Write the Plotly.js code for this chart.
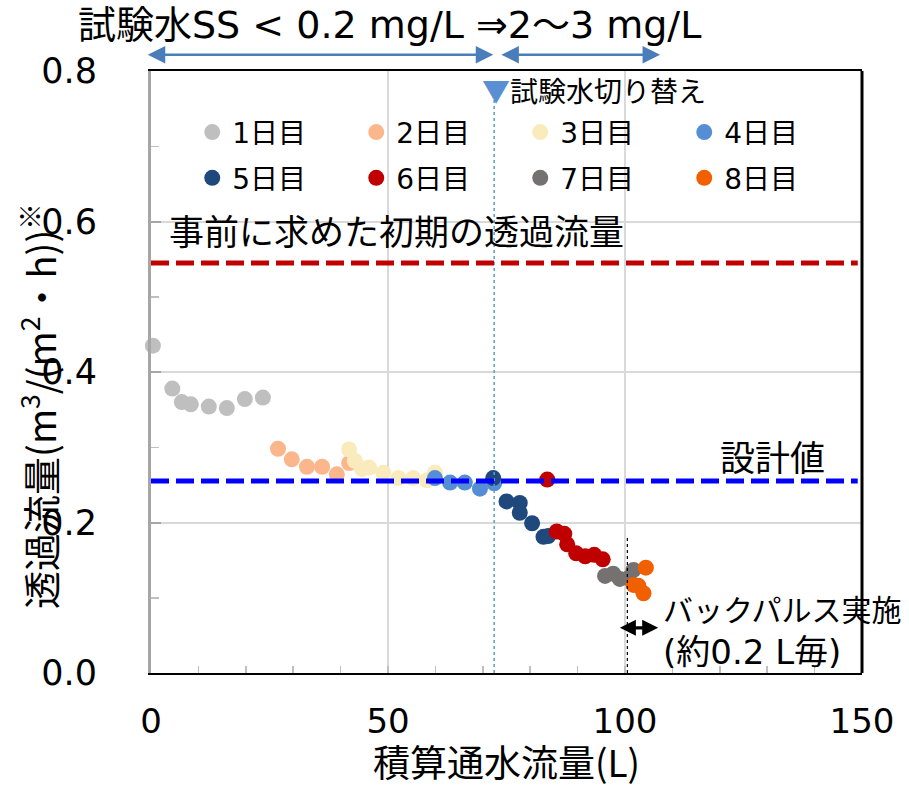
<!DOCTYPE html>
<html><head><meta charset="utf-8">
<script src="https://cdn.plot.ly/plotly-3.0.1.min.js"></script>
<style>html,body{margin:0;padding:0;background:#fff}#chart{width:909px;height:788px}</style>
</head><body><div id="chart"></div>
<script>
// ---- data ----
const dayNames = ['1日目','2日目','3日目','4日目','5日目','6日目','7日目','8日目'];
const dayColors = ['#bfbfbf','#fbb68c','#f9ebbb','#558ed5','#1f497d','#c00000','#767171','#f06000'];

const day1X = [0.4, 4.5, 6.5, 8.4, 12.2, 16.0, 19.8, 23.6];
const day1Y = [0.435, 0.378, 0.360, 0.357, 0.354, 0.352, 0.364, 0.366];
const day2X = [26.8, 29.7, 32.9, 36.1, 39.2, 41.8];
const day2Y = [0.298, 0.284, 0.274, 0.274, 0.264, 0.279];
const day3X = [41.8, 43.0, 44.5, 46.0, 49.0, 52.2, 55.3, 58.2, 59.9];
const day3Y = [0.297, 0.282, 0.271, 0.273, 0.266, 0.259, 0.259, 0.256, 0.266];
const day4X = [59.9, 63.1, 66.2, 69.4, 72.4];
const day4Y = [0.259, 0.253, 0.253, 0.245, 0.252];
const day5X = [72.2, 75.0, 77.8, 77.8, 80.4, 82.8, 83.8];
const day5Y = [0.259, 0.228, 0.226, 0.213, 0.199, 0.181, 0.182];
const day6X = [83.6, 85.6, 87.2, 87.8, 89.7, 91.6, 93.5, 95.3];
const day6Y = [0.257, 0.188, 0.185, 0.171, 0.159, 0.155, 0.157, 0.151];
const day7X = [95.8, 97.5, 98.9, 100.7, 101.8];
const day7Y = [0.129, 0.132, 0.125, 0.126, 0.137];
const day8X = [104.4, 101.8, 102.8, 103.9];
const day8Y = [0.140, 0.117, 0.116, 0.106];

const dayX = [day1X, day2X, day3X, day4X, day5X, day6X, day7X, day8X];
const dayY = [day1Y, day2Y, day3Y, day4Y, day5Y, day6Y, day7Y, day8Y];

const initialFlux = 0.545;   // 事前に求めた初期の透過流量
const designFlux = 0.255;    // 設計値
const switchX = 72.4;        // 試験水切り替え
const backpulseX = 100.5;    // バックパルス開始
const backpulseTop = 0.18;
const phase1Range = [-1, 72.2];
const phase2Range = [73.6, 107.4];
const phaseArrowYPaper = 1.027;
const backpulseArrow = [98.6, 107.0];
const backpulseArrowY = 0.06;

const xTickVals = [0, 50, 100, 150];
const yTickVals = [0, 0.2, 0.4, 0.6, 0.8];

// ---- chart ----
const LATIN = 'DejaVu Sans, Noto Sans CJK JP, sans-serif';
const CJK = 'Noto Sans CJK JP, DejaVu Sans, sans-serif';

const traces = dayNames.map((name, i) => ({
  type: 'scatter', mode: 'markers', name: name,
  x: dayX[i], y: dayY[i],
  marker: {color: dayColors[i], size: 16, line: {width: 0}},
  legend: i < 4 ? 'legend' : 'legend2',
  cliponaxis: false
}));

const legendCommon = {
  orientation: 'h', entrywidth: 119, entrywidthmode: 'pixels',
  font: {family: LATIN, size: 28, color: '#000'},
  bgcolor: 'rgba(0,0,0,0)', borderwidth: 0,
  xanchor: 'left', yanchor: 'middle', itemclick: false
};

const arrowCommon = {
  text: '', xref: 'x', yref: 'paper', axref: 'x', ayref: 'pixel', ay: 0,
  showarrow: true, arrowside: 'end+start', arrowhead: 2, startarrowhead: 2,
  arrowsize: 1.4, startarrowsize: 1.4, arrowwidth: 2.5, arrowcolor: '#4a7ebb'
};

const layout = {
  width: 909, height: 788,
  margin: {l: 151, r: 47, t: 71, b: 115},
  paper_bgcolor: '#fff', plot_bgcolor: '#fff',
  font: {family: CJK, color: '#000'},
  showlegend: true,
  legend: Object.assign({}, legendCommon, {x: 0.058, y: 0.898}),
  legend2: Object.assign({}, legendCommon, {x: 0.058, y: 0.822}),
  xaxis: {
    range: [0, 150], tickvals: xTickVals, ticktext: xTickVals.map(String),
    showgrid: true, gridcolor: '#d9d9d9', gridwidth: 2,
    zeroline: false, showline: true, linecolor: '#000', linewidth: 2, mirror: true,
    ticks: 'inside', ticklen: 7, tickcolor: '#bfbfbf', tickwidth: 1.5,
    minor: {dtick: 10, ticks: 'inside', ticklen: 7, tickcolor: '#bfbfbf', tickwidth: 1.5, showgrid: false},
    tickfont: {family: LATIN, size: 34, color: '#000'},
    ticklabelstandoff: 17,
    title: {text: '積算通水流量(L)', font: {family: CJK, size: 37, color: '#000'}, standoff: 17}
  },
  yaxis: {
    range: [0, 0.8], tickvals: yTickVals, ticktext: yTickVals.map(v => v.toFixed(1)),
    showgrid: true, gridcolor: '#d9d9d9', gridwidth: 2,
    zeroline: false, showline: true, linecolor: '#a6a6a6', linewidth: 3,
    ticks: 'inside', ticklen: 10, tickcolor: '#a6a6a6', tickwidth: 2,
    minor: {dtick: 0.1, ticks: 'inside', ticklen: 8, tickcolor: '#bfbfbf', tickwidth: 1.5, showgrid: false},
    tickfont: {family: LATIN, size: 35, color: '#000'},
    ticklabelstandoff: 44
  },
  shapes: [
    {type: 'line', xref: 'paper', x0: 1, x1: 1, yref: 'paper', y0: 0, y1: 1,
     line: {color: '#000', width: 3}},
    {type: 'line', xref: 'x', x0: switchX, x1: switchX, yref: 'y', y0: 0, y1: 0.765,
     line: {color: '#5b9bd5', width: 1.5, dash: 'dot'}},
    {type: 'line', xref: 'x', x0: backpulseX, x1: backpulseX, yref: 'y', y0: 0, y1: backpulseTop,
     line: {color: '#000', width: 1.2, dash: 'dot'}},
    {type: 'line', xref: 'paper', x0: 0, x1: 0.994, yref: 'y', y0: initialFlux, y1: initialFlux,
     layer: 'above', line: {color: '#c00000', width: 5, dash: '18px,7px'}},
    {type: 'line', xref: 'paper', x0: 0, x1: 0.994, yref: 'y', y0: designFlux, y1: designFlux,
     layer: 'above', line: {color: '#0000ff', width: 5, dash: '18px,7px'}}
  ],
  annotations: [
    {text: '試験水SS < 0.2 mg/L ⇒2～3 mg/L', xref: 'paper', yref: 'paper', x: 0.336, y: 1.076,
     xanchor: 'center', yanchor: 'middle', showarrow: false, font: {family: LATIN, size: 38}},
    Object.assign({}, arrowCommon, {x: phase1Range[1], ax: phase1Range[0], y: phaseArrowYPaper}),
    Object.assign({}, arrowCommon, {x: phase2Range[1], ax: phase2Range[0], y: phaseArrowYPaper}),
    {text: '<span style="color:#5b8fd4">▼</span>試験水切り替え', xref: 'paper', yref: 'paper',
     x: 0.4627, y: 0.968, xanchor: 'left', yanchor: 'middle', showarrow: false,
     font: {family: CJK, size: 28}},
    {text: '事前に求めた初期の透過流量', xref: 'paper', yref: 'paper', x: 0.0225, y: 0.736,
     xanchor: 'left', yanchor: 'middle', showarrow: false, font: {family: CJK, size: 35}},
    {text: '設計値', xref: 'paper', yref: 'paper', x: 0.797, y: 0.3605,
     xanchor: 'left', yanchor: 'middle', showarrow: false, font: {family: CJK, size: 35}},
    {text: 'バックパルス実施', xref: 'paper', yref: 'paper', x: 0.718, y: 0.108,
     xanchor: 'left', yanchor: 'middle', align: 'left', showarrow: false,
     font: {family: CJK, size: 30}},
    {text: '(約0.2 L毎)', xref: 'paper', yref: 'paper', x: 0.718, y: 0.035,
     xanchor: 'left', yanchor: 'middle', align: 'left', showarrow: false,
     font: {family: LATIN, size: 34}},
    {text: '', xref: 'x', yref: 'y', axref: 'x', ayref: 'y',
     x: backpulseArrow[1], y: backpulseArrowY, ax: backpulseArrow[0], ay: backpulseArrowY,
     showarrow: true, arrowside: 'end+start', arrowhead: 2, startarrowhead: 2,
     arrowsize: 1, startarrowsize: 1, arrowwidth: 3.2, arrowcolor: '#000'},
    {text: '透過流量(m<sup>3</sup>/(m<sup>2</sup>・h))<sup>※</sup>', xref: 'paper', yref: 'paper',
     x: -0.159, y: 0.4435, xanchor: 'center', yanchor: 'middle', textangle: -90,
     showarrow: false, font: {family: CJK, size: 38}}
  ]
};

Plotly.newPlot('chart', traces, layout, {displayModeBar: false, staticPlot: true});
</script>
</body></html>
